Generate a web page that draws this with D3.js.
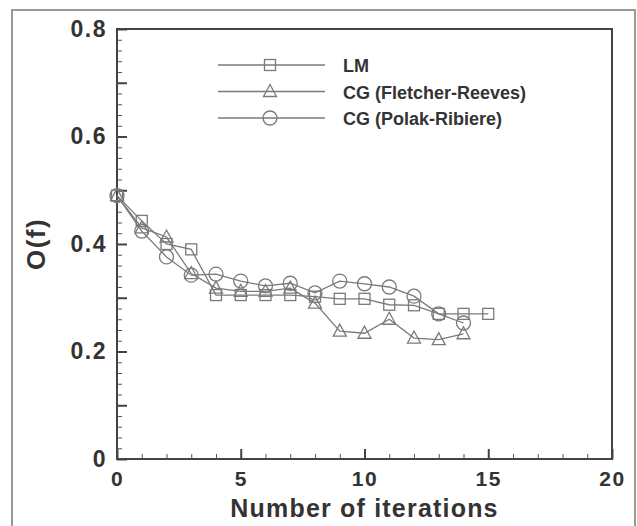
<!DOCTYPE html>
<html>
<head>
<meta charset="utf-8">
<script src="https://cdn.jsdelivr.net/npm/d3@7"></script>
<style>
  body { margin: 0; background: #fff; }
  svg { display: block; }
  text { font-family: "Liberation Sans", Arial, sans-serif; font-weight: bold; fill: #333; }
</style>
</head>
<body>
<svg></svg>
<script>
// iterations
var iterLM = [0, 1, 2, 3, 4, 5, 6, 7, 8, 9, 10, 11, 12, 13, 14, 15];
var valLM = [0.49, 0.443, 0.40, 0.39, 0.305, 0.305, 0.305, 0.305, 0.302, 0.298, 0.298, 0.287, 0.286, 0.27, 0.27, 0.27];

var iterFR = [0, 1, 2, 3, 4, 5, 6, 7, 8, 9, 10, 11, 12, 13, 14];
var valFR = [0.49, 0.43, 0.413, 0.345, 0.318, 0.312, 0.312, 0.318, 0.29, 0.238, 0.234, 0.26, 0.225, 0.222, 0.233];

var iterPR = [0, 1, 2, 3, 4, 5, 6, 7, 8, 9, 10, 11, 12, 13, 14];
var valPR = [0.49, 0.424, 0.376, 0.342, 0.344, 0.331, 0.322, 0.327, 0.309, 0.331, 0.326, 0.32, 0.303, 0.27, 0.253];

var seriesNames = ["LM", "CG (Fletcher-Reeves)", "CG (Polak-Ribiere)"];
var xTickLabels = [0, 5, 10, 15, 20];
var yTickLabels = [0, 0.2, 0.4, 0.6, 0.8];

function main() {
	var W = 637, H = 526;
	var margin = { top: 29, right: 25, bottom: 67, left: 117 };
	var width = W - margin.left - margin.right,
		height = H - margin.top - margin.bottom;

	var svg = d3.select("svg")
		.attr("width", W)
		.attr("height", H);

	// outer frame of the scanned figure
	svg.append("path")
		.attr("d", "M12,530 L12,10 L635,10 L635,530")
		.attr("fill", "none")
		.attr("stroke", "#999")
		.attr("stroke-width", 2);

	var xScale = d3.scaleLinear().domain([0, 20]).range([0, width]);
	var yScale = d3.scaleLinear().domain([0, 0.8]).range([height, 0]);

	var g = svg.append("g")
		.attr("transform", "translate(" + margin.left + "," + margin.top + ")");

	var gray = "#7a7a7a";

	// frame of plot
	g.append("rect")
		.attr("width", width)
		.attr("height", height)
		.attr("fill", "none")
		.attr("stroke", "#444")
		.attr("stroke-width", 2);

	// minor ticks, inward
	g.append("g")
		.call(d3.axisLeft(yScale).tickValues(d3.range(0, 0.801, 0.02)).tickSize(-5).tickFormat(""))
		.call(function (s) { s.select(".domain").remove(); s.selectAll("line").attr("stroke", "#555"); });
	g.append("g")
		.call(d3.axisLeft(yScale).tickValues([0.1, 0.3, 0.5, 0.7]).tickSize(-10).tickFormat(""))
		.call(function (s) { s.select(".domain").remove(); s.selectAll("line").attr("stroke", "#444").attr("stroke-width", 2); });
	g.append("g")
		.attr("transform", "translate(0," + height + ")")
		.call(d3.axisBottom(xScale).tickValues(d3.range(0, 21, 1)).tickSize(-5).tickFormat(""))
		.call(function (s) { s.select(".domain").remove(); s.selectAll("line").attr("stroke", "#555"); });

	// major ticks with labels
	var yAxis = g.append("g")
		.call(d3.axisLeft(yScale).tickValues(yTickLabels).tickSize(-10).tickPadding(10)
			.tickFormat(function (d) { return d === 0 ? "0" : d3.format(".1f")(d); }));
	yAxis.select(".domain").remove();
	yAxis.selectAll("line").attr("stroke", "#444").attr("stroke-width", 2);
	yAxis.selectAll("text").style("font-size", "23px").style("letter-spacing", "1.5px").attr("fill", "#333");

	var xAxis = g.append("g")
		.attr("transform", "translate(0," + height + ")")
		.call(d3.axisBottom(xScale).tickValues(xTickLabels).tickSize(-10).tickPadding(12));
	xAxis.select(".domain").remove();
	xAxis.selectAll("line").attr("stroke", "#444").attr("stroke-width", 2);
	xAxis.selectAll("text").style("font-size", "21px").style("letter-spacing", "1.5px").attr("fill", "#333");

	// axis titles
	g.append("text")
		.attr("x", width / 2)
		.attr("y", height + 58)
		.attr("text-anchor", "middle")
		.style("font-size", "25px")
		.style("letter-spacing", "1.2px")
		.text("Number of iterations");

	g.append("text")
		.attr("transform", "translate(" + (-72) + "," + yScale(0.4) + ") rotate(-90)")
		.attr("text-anchor", "middle")
		.style("font-size", "26px")
		.style("letter-spacing", "1.5px")
		.text("O(f)");

	var line = d3.line()
		.x(function (d) { return xScale(d[0]); })
		.y(function (d) { return yScale(d[1]); });

	var series = [
		{ name: seriesNames[0], pts: d3.zip(iterLM, valLM), shape: "square" },
		{ name: seriesNames[1], pts: d3.zip(iterFR, valFR), shape: "triangle" },
		{ name: seriesNames[2], pts: d3.zip(iterPR, valPR), shape: "circle" }
	];

	function drawMarker(sel, shape) {
		if (shape === "square") {
			sel.append("rect").attr("x", -5.5).attr("y", -5.5).attr("width", 11).attr("height", 11);
		} else if (shape === "triangle") {
			sel.append("path").attr("d", "M0,-7 L6.5,5 L-6.5,5 Z");
		} else {
			sel.append("circle").attr("r", 7);
		}
		sel.selectAll("*").attr("fill", "none").attr("stroke", gray).attr("stroke-width", 1.3);
	}

	series.forEach(function (s) {
		g.append("path")
			.datum(s.pts)
			.attr("d", line)
			.attr("fill", "none")
			.attr("stroke", gray)
			.attr("stroke-width", 1.3);
		g.selectAll(".m-" + s.shape)
			.data(s.pts)
			.enter().append("g")
			.attr("class", "m-" + s.shape)
			.attr("transform", function (d) { return "translate(" + xScale(d[0]) + "," + yScale(d[1]) + ")"; })
			.each(function () { drawMarker(d3.select(this), s.shape); });
	});

	// legend
	var legend = g.append("g").attr("transform", "translate(101,36)");
	series.forEach(function (s, i) {
		var row = legend.append("g").attr("transform", "translate(0," + (i * 26.5) + ")");
		row.append("line").attr("x1", 0).attr("x2", 107).attr("stroke", gray).attr("stroke-width", 1.3);
		var m = row.append("g").attr("transform", "translate(52,0)");
		drawMarker(m, s.shape);
		row.append("text")
			.attr("x", 125)
			.attr("y", 7)
			.style("font-size", "18px")
			.text(s.name);
	});
}
main();
</script>
</body>
</html>
